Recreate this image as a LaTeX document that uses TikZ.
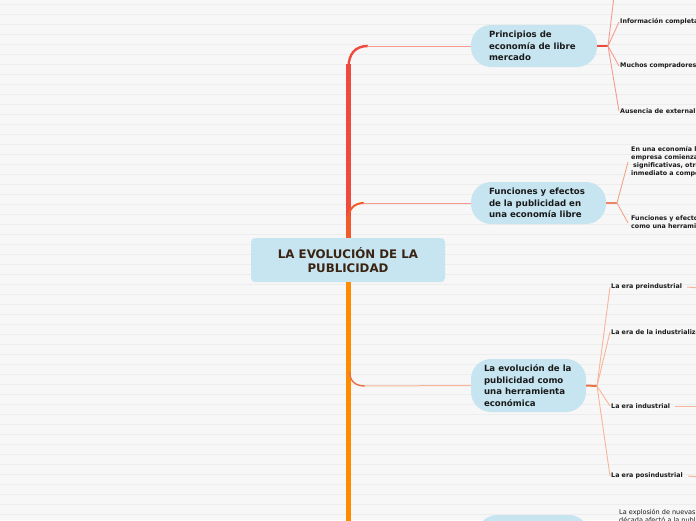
\documentclass[tikz,border=0pt]{standalone}
\usepackage{fontspec}
\setmainfont{DejaVu Sans}
\definecolor{bgc}{HTML}{F7F7F7}
\definecolor{gridc}{HTML}{EDEDED}
\definecolor{pillc}{HTML}{C6E5F0}
\definecolor{darktext}{HTML}{1A1A1A}
\definecolor{browntext}{HTML}{3A2313}
\definecolor{trunkred}{HTML}{EE4B3E}
\definecolor{trunkmid}{HTML}{F15A2A}
\definecolor{trunkorange}{HTML}{FF8C00}
\definecolor{salmonA}{HTML}{F69A8E}
\definecolor{salmonB}{HTML}{F4A487}
\definecolor{salmonC}{HTML}{F8B59B}
\definecolor{redA}{HTML}{E94B3C}
\definecolor{orangeB}{HTML}{F08466}
\definecolor{orangeC}{HTML}{E8714A}
\tikzset{
  centralbox/.style={fill=pillc, rounded corners=4pt, minimum width=194pt, minimum height=44pt, inner sep=0pt,
    align=center, font=\fontsize{11.8pt}{14.5pt}\selectfont\bfseries, text=browntext},
  pill/.style={fill=pillc, rounded corners=20pt, inner sep=0pt},
  topictext/.style={anchor=west, align=left, inner sep=0pt, font=\fontsize{8.6pt}{11.5pt}\selectfont\bfseries, text=darktext},
  leaftext/.style={anchor=west, align=left, inner sep=1pt, font=\fontsize{6.35pt}{8pt}\selectfont\bfseries, text=darktext},
  leafplain/.style={anchor=west, align=left, inner sep=1pt, font=\fontsize{6.5pt}{8.6pt}\selectfont, text=darktext},
  trunkline/.style={line width=5pt},
  thinline/.style={line width=0.9pt},
}
\begin{document}
\begin{tikzpicture}[x=1pt,y=-1pt]
\useasboundingbox (0,0) rectangle (696,520);
\clip (0,0) rectangle (696,520);
\fill[bgc] (0,0) rectangle (696,520);
\foreach \yy in {4.5,14.5,...,514.5} \draw[gridc, line width=0.8pt] (0,\yy) -- (696,\yy);

% nodes
\node[centralbox] (c) at (348,260) {LA EVOLUCIÓN DE LA\\PUBLICIDAD};

\node[pill, minimum width=126pt, minimum height=42pt] (t1) at (534,46) {};
\node[topictext] (t1t) at ([xshift=18pt]t1.west) {Principios de\\economía de libre\\mercado};

\node[pill, minimum width=135pt, minimum height=42pt] (t2) at (538.5,203) {};
\node[topictext] (t2t) at ([xshift=18pt]t2.west) {Funciones y efectos\\de la publicidad en\\una economía libre};

\node[pill, minimum width=115pt, minimum height=53pt] (t3) at (528.5,385.5) {};
\node[topictext] (t3t) at ([xshift=13pt]t3.west) {La evolución de la\\publicidad como\\una herramienta\\económica};

\node[pill, minimum width=112pt, minimum height=46pt] (t4) at (533,538) {};

% fan points
\coordinate (f1) at (608,46);
\coordinate (f2) at (617,203);
\coordinate (f3) at (597,386);
\coordinate (l0) at (616,-20);

% leaves
\node[leaftext] (l1) at (619,22) {Información completa};
\node[leaftext] (l2) at (619,66) {Muchos compradores y vendedores};
\node[leaftext] (l3) at (619,111) {Ausencia de externalidades};

\node[leaftext] (m1) at (630,162) {En una economía libre, cuando una\\empresa comienza a obtener ganancias\\\hspace{2pt}significativas, otras empresas entran de\\inmediato a competir};
\node[leaftext] (m2) at (630,223) {Funciones y efectos de la publicidad\\como una herramienta de marketing};

\node[leaftext] (e1) at (610,287) {La era preindustrial};
\node[leaftext] (e2) at (610,332) {La era de la industrialización};
\node[leaftext] (e3) at (610,406) {La era industrial};
\node[leaftext] (e4) at (610,476) {La era posindustrial};

\node[leafplain] (p1) at (618,516.5) {La explosión de nuevas tecnologías en esta\\década afectó a la publicidad};

\coordinate (e1r) at (700,288);
\coordinate (e3r) at (700,406);
\coordinate (e4r) at (700,477);

% trunk
\draw[trunkline, trunkmid] (c.north) -- (348,214);
\draw[trunkline, trunkred] (348,216) -- (348,64);
\draw[trunkline, trunkorange] (c.south) -- (348,525);

% branch curves
\draw[trunkred, line width=2.4pt] (348.5,68) .. controls (348.5,54) and (355,46) .. (368,46);
\draw[salmonA, thinline] (367,46) -- (t1.west);
\draw[trunkmid, line width=2pt] (348.5,219) .. controls (348.5,209) and (354,203) .. (364,203);
\draw[salmonA, thinline] (363,203) -- (t2.west);
\draw[orangeC, line width=1.4pt] (349.5,372) .. controls (350,381) and (355,386) .. (365,386);
\draw[salmonC, line width=1pt] (364,386) -- (t3.west);

% fans
\draw[redA, line width=1.2pt] (t1.east) -- (f1);
\draw[salmonA, thinline] (f1) -- (l0);
\draw[salmonA, thinline] (f1) -- (l1.west);
\draw[salmonA, thinline] (f1) -- (l2.west);
\draw[salmonA, thinline] (f1) -- (l3.west);

\draw[orangeB, line width=1.2pt] (t2.east) -- (f2);
\draw[salmonB, thinline] (f2) -- ([xshift=-2pt]m1.west);
\draw[salmonB, thinline] (f2) -- ([xshift=-2pt]m2.west);

\draw[orangeC, line width=2pt] (t3.east) -- (f3);
\draw[salmonC, thinline] (f3) -- (e1.west);
\draw[salmonC, thinline] (f3) -- (e2.west);
\draw[salmonC, thinline] (f3) -- (e3.west);
\draw[salmonC, thinline] (f3) -- (e4.west);

\draw[salmonC, line width=1pt] ([xshift=4pt]e1.east) -- (e1r);
\draw[salmonC, line width=1pt] ([xshift=4pt]e3.east) -- (e3r);
\draw[salmonC, line width=1pt] ([xshift=4pt]e4.east) -- (e4r);
\end{tikzpicture}
\end{document}
